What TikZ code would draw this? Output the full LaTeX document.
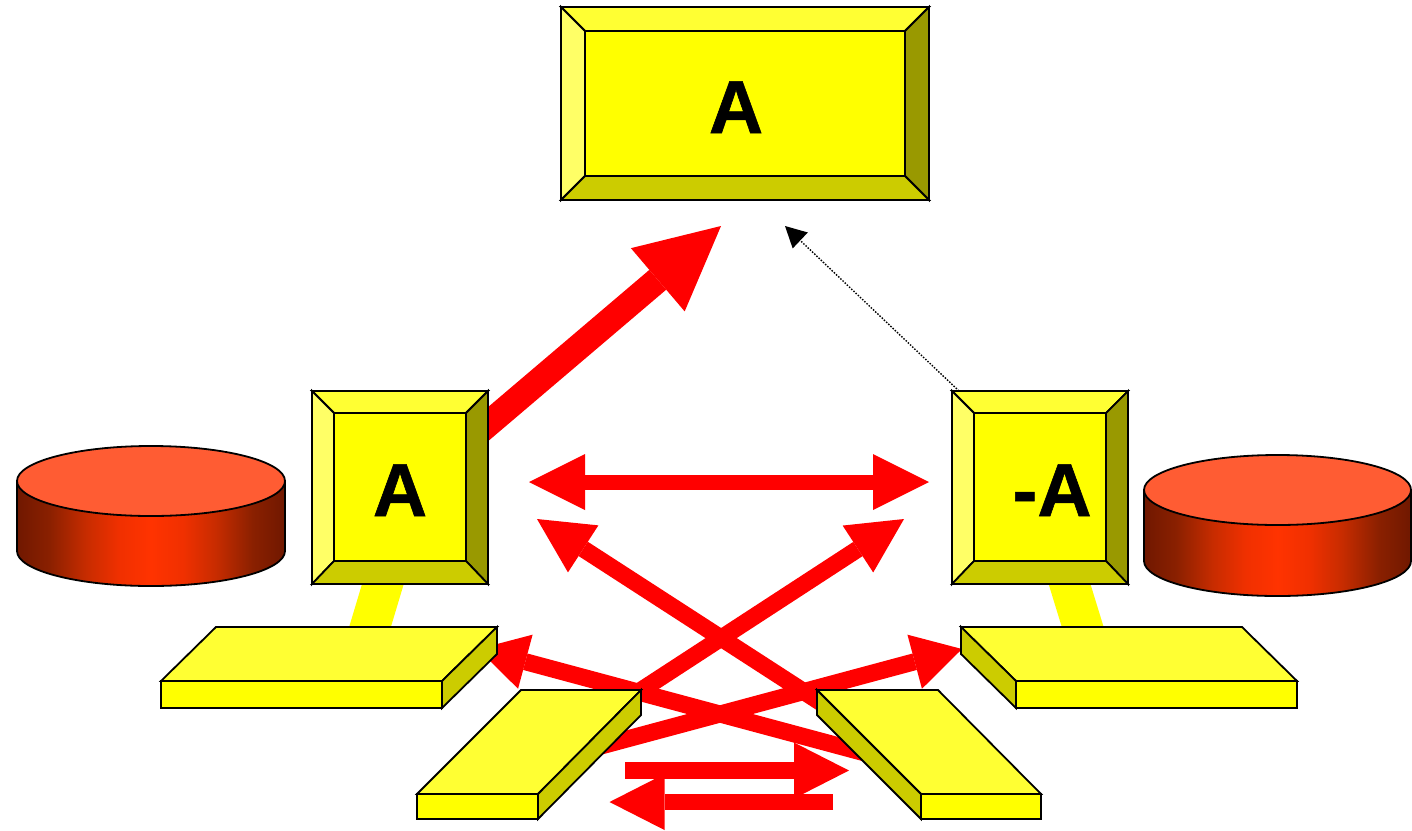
\documentclass[tikz,border=0pt]{standalone}
\usepackage{fontspec}
\setmainfont{Liberation Sans}
\newfontfamily\lblfont[FakeBold=0.8]{Liberation Sans Bold}
\usetikzlibrary{arrows.meta}
\definecolor{yTop}{HTML}{FFFF33}
\definecolor{yLeft}{HTML}{FFFF66}
\definecolor{yRight}{HTML}{999900}
\definecolor{yBot}{HTML}{CCCC00}
\definecolor{yPure}{HTML}{FFFF00}
\definecolor{redPure}{HTML}{FF0000}
\definecolor{cylTop}{HTML}{FF5C33}
\definecolor{cylMid}{HTML}{FF3300}
\definecolor{cylDark}{HTML}{701800}
\definecolor{cylA}{HTML}{8A2000}
\definecolor{cylB}{HTML}{C82C00}
\definecolor{cylC}{HTML}{F03000}
\pgfdeclarehorizontalshading{drumshade}{100bp}{color(0bp)=(cylDark); color(25bp)=(cylDark); color(31bp)=(cylA); color(38bp)=(cylB); color(44bp)=(cylC); color(50bp)=(cylMid); color(56bp)=(cylC); color(62bp)=(cylB); color(69bp)=(cylA); color(75bp)=(cylDark); color(100bp)=(cylDark)}
\tikzset{
  face/.style={draw=black,line width=1.8pt,line join=miter},
  lbl/.style={font=\fontsize{75}{80}\lblfont,inner sep=0pt,anchor=base},
  link/.style={draw=yPure,line width=40pt},
  thin arrow/.style={draw=redPure,line width=17pt,-{Triangle[length=55pt,width=56pt,line width=0pt]}},
  mid arrow/.style={draw=redPure,line width=17pt,-{Triangle[length=49pt,width=56pt,line width=0pt]}},
  low arrow/.style={draw=redPure,line width=16.5pt,-{Triangle[length=55pt,width=56pt,line width=0pt]}},
  both arrow/.style={draw=redPure,line width=15pt,{Triangle[length=56pt,width=56pt,line width=0pt]}-{Triangle[length=56pt,width=56pt,line width=0pt]}},
  big arrow/.style={draw=redPure,line width=26pt,-{Triangle[length=83pt,width=83pt,line width=0pt]}},
  dot arrow/.style={draw=black,line width=1.4pt,dash pattern=on 1.5pt off 1.5pt,-{Triangle[length=21pt,width=22pt,line width=0pt]}}
}
% outer x1 y1 x2 y2, inner x1 y1 x2 y2
\newcommand\bevelbox[8]{%
  \filldraw[face,fill=yTop] (#1,#2) -- (#3,#2) -- (#7,#6) -- (#5,#6) -- cycle;
  \filldraw[face,fill=yLeft] (#1,#2) -- (#5,#6) -- (#5,#8) -- (#1,#4) -- cycle;
  \filldraw[face,fill=yRight] (#3,#2) -- (#3,#4) -- (#7,#8) -- (#7,#6) -- cycle;
  \filldraw[face,fill=yBot] (#1,#4) -- (#3,#4) -- (#7,#8) -- (#5,#8) -- cycle;
  \filldraw[face,fill=yPure] (#5,#6) rectangle (#7,#8);
}
% x1 x2 ytop ybot ry
\newcommand\drum[5]{%
  \shade[shading=drumshade]
    (#1,#3) -- (#1,#4) arc[start angle=180,end angle=360,x radius={(#2-#1)/2},y radius=-#5] -- (#2,#3)
    arc[start angle=0,end angle=180,x radius={(#2-#1)/2},y radius=-#5] -- cycle;
  \draw[face] (#1,#3) -- (#1,#4) arc[start angle=180,end angle=360,x radius={(#2-#1)/2},y radius=-#5] -- (#2,#3);
  \filldraw[face,fill=cylTop] ({(#1+#2)/2},#3) ellipse[x radius={(#2-#1)/2},y radius=#5];
}
\begin{document}
\begin{tikzpicture}[x=1pt,y=-1pt]
\useasboundingbox (0,0) rectangle (1412,830);
% connector end points
\coordinate (boxLin) at (412,487);
\coordinate (slabLin) at (358,667);
\coordinate (boxRin) at (1056,540);
\coordinate (slabRin) at (1095,667);
\coordinate (bigStart) at (440,465);
\coordinate (bigTip) at (721,226);
\coordinate (dotStart) at (959,391);
\coordinate (dotTip) at (785,226);
\coordinate (hL) at (529,482);
\coordinate (hR) at (929,482);
\coordinate (upRStart) at (600,717);
\coordinate (upRTip) at (904,519);
\coordinate (upLStart) at (840,715);
\coordinate (upLTip) at (537,519);
\coordinate (toRStart) at (560,757);
\coordinate (toRTip) at (962,649);
\coordinate (toLStart) at (880,757);
\coordinate (toLTip) at (478,649);
\coordinate (lowRStart) at (625,770.5);
\coordinate (lowRTip) at (849,770.5);
\coordinate (lowLStart) at (833,802);
\coordinate (lowLTip) at (609.5,802);
% links
\draw[link] (boxLin) -- (slabLin);
\draw[link] (boxRin) -- (slabRin);
% red arrows
\draw[big arrow] (bigStart) -- (bigTip);
\draw[both arrow] (hL) -- (hR);
\draw[thin arrow] (upRStart) -- (upRTip);
\draw[thin arrow] (upLStart) -- (upLTip);
\draw[mid arrow] (toRStart) -- (toRTip);
\draw[mid arrow] (toLStart) -- (toLTip);
\draw[low arrow] (lowRStart) -- (lowRTip);
\draw[low arrow] (lowLStart) -- (lowLTip);
\draw[dot arrow] (dotStart) -- (dotTip);
% boxes
\bevelbox{561}{7}{929}{200}{585}{31}{905}{176}
\bevelbox{312}{391}{488}{584}{334}{413}{466}{561}
\bevelbox{952}{391}{1128}{584}{974}{413}{1106}{561}
\node[lbl] (topBox) at (736,133) {A};
\node[lbl] (leftBox) at (400,516) {A};
\node[lbl] (rightBox) at (1052,516) {-A};
% drums
\drum{17}{285}{481}{551}{35}
\drum{1144}{1411}{490}{561}{35}
% slabs
\filldraw[face,fill=yTop] (161,681) -- (216,627) -- (497,627) -- (442,681) -- cycle;
\filldraw[face,fill=yPure] (161,681) rectangle (442,708);
\filldraw[face,fill=yBot] (442,681) -- (497,627) -- (497,654) -- (442,708) -- cycle;
\filldraw[face,fill=yTop] (961,627) -- (1242,627) -- (1297,681) -- (1016,681) -- cycle;
\filldraw[face,fill=yPure] (1016,681) rectangle (1297,708);
\filldraw[face,fill=yBot] (961,627) -- (1016,681) -- (1016,708) -- (961,654) -- cycle;
\filldraw[face,fill=yTop] (417,794) -- (521,690) -- (641,690) -- (538,794) -- cycle;
\filldraw[face,fill=yPure] (417,794) rectangle (538,819);
\filldraw[face,fill=yBot] (538,794) -- (641,690) -- (641,715) -- (538,819) -- cycle;
\filldraw[face,fill=yTop] (817,690) -- (938,690) -- (1041,794) -- (921,794) -- cycle;
\filldraw[face,fill=yPure] (921,794) rectangle (1041,819);
\filldraw[face,fill=yBot] (817,690) -- (921,794) -- (921,819) -- (817,715) -- cycle;
\end{tikzpicture}
\end{document}
